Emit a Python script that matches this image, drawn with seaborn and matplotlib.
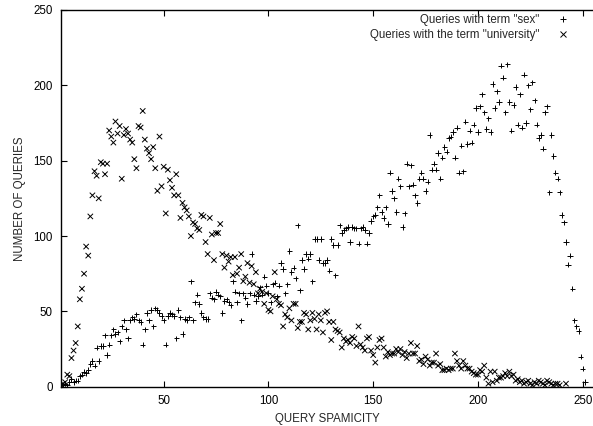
import numpy as np
import pandas as pd
import matplotlib
matplotlib.use("Agg")
import matplotlib.pyplot as plt
import seaborn as sns

# ---- data ----
sex_counts = [
    1, 1, 2, 1, 3, 5, 3, 4, 4, 7,
    8, 10, 9, 11, 15, 17, 14, 26, 17, 27,
    27, 34, 21, 28, 34, 38, 35, 36, 30, 40,
    44, 38, 32, 44, 46, 45, 48, 44, 43, 28,
    38, 49, 44, 51, 40, 52, 51, 49, 47, 44,
    28, 47, 49, 48, 47, 32, 51, 46, 35, 45,
    44, 46, 70, 44, 56, 61, 55, 49, 46, 45,
    45, 62, 59, 58, 63, 61, 60, 49, 57, 58,
    56, 54, 70, 63, 56, 62, 44, 62, 59, 55,
    62, 88, 61, 57, 60, 66, 61, 73, 67, 62,
    56, 68, 69, 60, 67, 82, 78, 62, 68, 90,
    76, 79, 72, 107, 64, 84, 78, 88, 85, 88,
    70, 98, 98, 84, 98, 82, 82, 84, 77, 98,
    94, 74, 94, 107, 102, 104, 105, 106, 96, 106,
    105, 105, 95, 105, 106, 104, 95, 102, 110, 113,
    114, 119, 127, 116, 112, 119, 108, 142, 130, 125,
    116, 138, 133, 106, 115, 148, 133, 147, 134, 127,
    122, 138, 142, 138, 130, 136, 167, 144, 148, 144,
    155, 138, 152, 159, 156, 165, 166, 169, 152, 172,
    142, 160, 143, 176, 161, 170, 162, 174, 185, 169,
    186, 194, 182, 171, 178, 169, 201, 185, 196, 189,
    213, 205, 182, 214, 189, 170, 187, 199, 174, 194,
    172, 207, 175, 200, 184, 202, 190, 174, 165, 167,
    158, 182, 186, 129, 167, 153, 142, 138, 129, 114,
    109, 96, 81, 87, 65, 44, 40, 37, 20, 12, 3,
]

univ_counts = [
    1, 2, 3, 8, 7, 19, 24, 29, 40, 58,
    65, 75, 93, 87, 113, 127, 143, 140, 125, 149,
    148, 141, 148, 170, 166, 162, 176, 168, 173, 138,
    167, 171, 168, 164, 162, 151, 145, 173, 172, 183,
    164, 158, 155, 151, 159, 145, 130, 166, 133, 146,
    115, 144, 137, 132, 127, 141, 127, 112, 122, 119,
    117, 113, 100, 109, 108, 105, 104, 114, 113, 96,
    88, 112, 101, 84, 102, 102, 108, 88, 79, 87,
    83, 86, 74, 86, 75, 79, 88, 70, 73, 82,
    69, 80, 68, 76, 62, 65, 63, 55, 62, 51,
    50, 60, 76, 58, 55, 54, 40, 48, 46, 52,
    44, 55, 55, 39, 43, 43, 49, 48, 38, 44,
    49, 45, 38, 48, 44, 36, 49, 50, 43, 31,
    43, 38, 37, 36, 26, 32, 30, 31, 29, 33,
    32, 27, 40, 28, 26, 24, 32, 33, 24, 21,
    16, 26, 31, 32, 26, 20, 23, 21, 22, 22,
    25, 23, 25, 21, 23, 19, 22, 29, 22, 22,
    27, 17, 18, 15, 20, 18, 14, 16, 16, 22,
    14, 15, 11, 11, 12, 11, 12, 12, 22, 17,
    14, 12, 17, 14, 12, 12, 10, 9, 8, 8,
    11, 10, 14, 6, 2, 10, 3, 10, 4, 6,
    6, 7, 9, 7, 10, 7, 8, 4, 5, 3,
    4, 2, 3, 4, 2, 1, 3, 2, 4, 3,
    2, 1, 4, 3, 2, 1, 2, 2, 1, None,
    None, 2,
]

sex_label = 'Queries with term "sex"'
univ_label = 'Queries with the term "university"'
x_ticks = [50, 100, 150, 200, 250]
y_ticks = [0, 50, 100, 150, 200, 250]

sex_x = list(range(1, len(sex_counts) + 1))
univ_x = list(range(1, len(univ_counts) + 1))

df = pd.concat([
    pd.DataFrame({"spamicity": sex_x, "queries": sex_counts, "series": sex_label}),
    pd.DataFrame({"spamicity": univ_x, "queries": univ_counts, "series": univ_label}),
], ignore_index=True)
df["queries"] = pd.to_numeric(df["queries"])
df = df.dropna()

# ---- style ----
sns.set_style("white")
plt.rcParams["font.family"] = ["Liberation Sans", "DejaVu Sans"]
FS = 8.3
plt.rcParams["font.size"] = FS

fig = plt.figure(figsize=(5.93, 4.26), dpi=100)
ax = fig.add_axes([61 / 593, (426 - 386.7) / 426, 532 / 593, 376.7 / 426])

sns.scatterplot(
    data=df, x="spamicity", y="queries", style="series",
    markers={sex_label: "+", univ_label: "x"},
    color="black", s=15, linewidth=0.7, ax=ax, legend=True,
)

ax.set_xlim(1, 254.9)
ax.set_ylim(0, 250)
ax.set_xticks(x_ticks)
ax.set_yticks(y_ticks)
ax.set_xlabel("QUERY SPAMICITY", fontsize=FS, labelpad=4)
ax.set_ylabel("NUMBER OF QUERIES", fontsize=FS, labelpad=5.5)

for side in ["left", "bottom", "top"]:
    ax.spines[side].set_visible(True)
    ax.spines[side].set_color("black")
    ax.spines[side].set_linewidth(1.0)
ax.spines["right"].set_visible(False)

ax.tick_params(axis="both", direction="in", length=4.5, width=0.8,
               colors="black", labelsize=FS, pad=6)
ax.tick_params(axis="x", top=True, bottom=True)
ax.tick_params(axis="y", left=True, right=False)

handles, labels = ax.get_legend_handles_labels()
ax.legend(handles, labels, loc="upper right", bbox_to_anchor=(0.955, 0.99),
          frameon=False, markerfirst=False, alignment="right",
          handlelength=1.0, handletextpad=1.6, borderpad=0, borderaxespad=0,
          labelspacing=0.25, fontsize=FS)

fig.savefig("out.png", dpi=100)
